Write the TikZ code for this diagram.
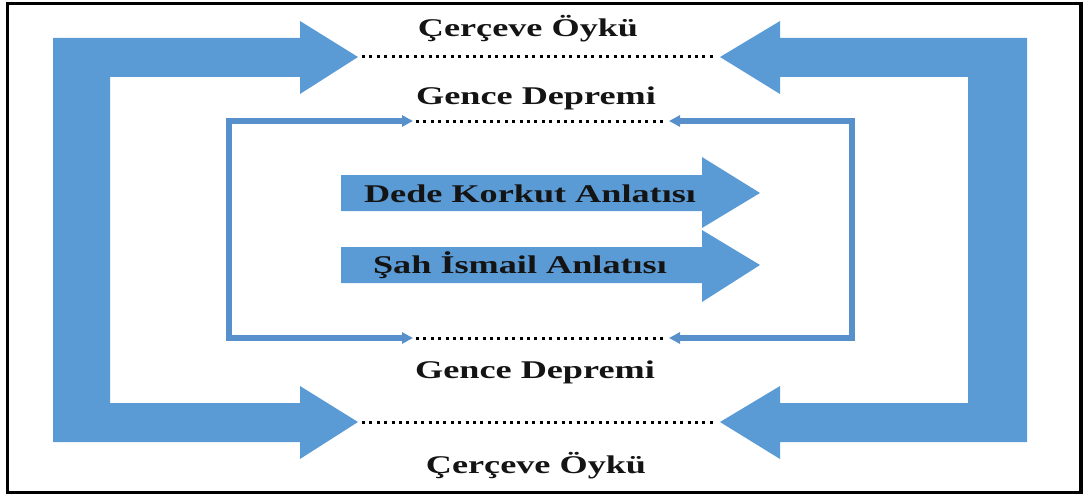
\documentclass[tikz,border=0pt]{standalone}
\usepackage{fontspec}
\setmainfont{Liberation Serif}[FakeStretch=1.42]
\usetikzlibrary{arrows.meta}
\definecolor{arrowblue}{HTML}{5B9BD5}
\definecolor{frameblue}{HTML}{5890CC}
\begin{document}
\begin{tikzpicture}[x=1pt,y=-1pt,
  bigarrow/.style={fill=arrowblue,draw=none},
  innerframe/.style={draw=frameblue,line width=6pt,line join=miter,
    {Triangle[length=11pt,width=11pt]}-{Triangle[length=11pt,width=11pt]}},
  dotline/.style={draw=black,line width=3pt,dash pattern=on 3pt off 4.4pt},
  label/.style={font=\fontsize{25.5}{30}\selectfont\bfseries,text=black!92,
    inner sep=0pt,anchor=base}]
\useasboundingbox (0,0) rectangle (1085,495);

% outer frame
\draw[line width=3.5pt] (7.5,3.5) rectangle (1081,492.5);

% left bracket arrow (two heads pointing right)
\fill[bigarrow] (53,38) -- (300,38) -- (300,21) -- (358,57) -- (300,94)
  -- (300,77) -- (110,77) -- (110,403) -- (300,403) -- (300,386)
  -- (358,422) -- (300,459) -- (300,442) -- (53,442) -- cycle;
% right bracket arrow (two heads pointing left)
\fill[bigarrow] (1027,38) -- (780,38) -- (780,21) -- (720,57) -- (780,94)
  -- (780,77) -- (968,77) -- (968,403) -- (780,403) -- (780,386)
  -- (720,422) -- (780,459) -- (780,442) -- (1027,442) -- cycle;

% tips of the outer arrows
\coordinate (otl) at (362,57);
\coordinate (otr) at (716,57);
\coordinate (obl) at (362,422);
\coordinate (obr) at (716,422);
\draw[dotline] (otl) -- (otr);
\draw[dotline] (obl) -- (obr);

% inner frame
\coordinate (itl) at (413,121);
\coordinate (itr) at (669,121);
\coordinate (ibl) at (413,338);
\coordinate (ibr) at (669,338);
\draw[innerframe] (itl) -- (229,121) -- (229,338) -- (ibl);
\draw[innerframe] (itr) -- (852,121) -- (852,338) -- (ibr);
\draw[dotline] ([xshift=3pt]itl) -- ([xshift=-3pt]itr);
\draw[dotline] ([xshift=3pt]ibl) -- ([xshift=-3pt]ibr);

% central narrative arrows
\fill[bigarrow] (341,175) -- (702,175) -- (702,157) -- (760,193) -- (702,228)
  -- (702,211) -- (341,211) -- cycle;
\fill[bigarrow] (341,247) -- (702,247) -- (702,230) -- (760,265) -- (702,302)
  -- (702,283) -- (341,283) -- cycle;

% labels
\node[label] (topframe) at (528,37) {Çerçeve Öykü};
\node[label] (topquake) at (536,104) {Gence Depremi};
\node[label] (dede) at (530,202) {Dede Korkut Anlatısı};
\node[label] (sah) at (520,273) {Şah İsmail Anlatısı};
\node[label] (botquake) at (535,378) {Gence Depremi};
\node[label] (botframe) at (536,473) {Çerçeve Öykü};
\end{tikzpicture}
\end{document}
